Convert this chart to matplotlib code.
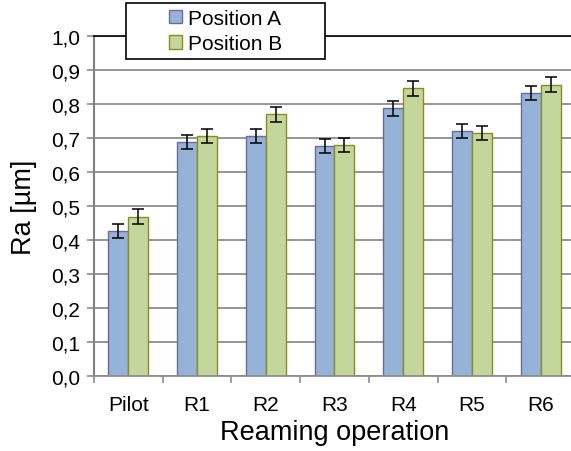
import matplotlib
matplotlib.use("Agg")
import matplotlib.pyplot as plt
import numpy as np
from matplotlib.ticker import FuncFormatter, FixedLocator
from matplotlib.patches import Rectangle

categories = ["Pilot", "R1", "R2", "R3", "R4", "R5", "R6"]
pos_a = [0.426, 0.689, 0.706, 0.676, 0.787, 0.720, 0.833]
pos_b = [0.469, 0.705, 0.770, 0.679, 0.846, 0.715, 0.857]
err_a = [0.021, 0.021, 0.021, 0.021, 0.022, 0.021, 0.021]
err_b = [0.021, 0.021, 0.022, 0.021, 0.022, 0.021, 0.021]

plt.rcParams['font.family'] = ['Liberation Sans', 'DejaVu Sans']

W, H = 571, 452
fig = plt.figure(figsize=(W/100, H/100), dpi=100)
ax = fig.add_axes([94/W, (H-377)/H, (575-94)/W, (377-37)/H])

x = np.arange(len(categories))
bw = 0.29
grid_c = '#8c8c8c'
ax.set_axisbelow(True)
ax.yaxis.grid(True, color=grid_c, lw=1.3)
ekw = dict(ecolor='black', elinewidth=1.1, capsize=4, capthick=1.1)
ax.bar(x - bw/2, pos_a, bw, color='#95b3d7', edgecolor='#6a6aa0', lw=1.0,
       yerr=err_a, error_kw=ekw, label='Position A')
ax.bar(x + bw/2, pos_b, bw, color='#c3d69b', edgecolor='#8c8c1e', lw=1.0,
       yerr=err_b, error_kw=ekw, label='Position B')

ax.set_xlim(-0.5, 6.5)
ax.set_ylim(0, 1.0)
ax.set_yticks(np.arange(0, 1.01, 0.1))
ax.yaxis.set_major_formatter(FuncFormatter(lambda v, p: f"{v:.1f}".replace('.', ',')))
ax.set_xticks(x)
ax.set_xticklabels(categories)
ax.xaxis.set_minor_locator(FixedLocator(np.arange(-0.5, 6.6, 1.0)))
ax.tick_params(axis='x', which='major', length=0, pad=14, labelsize=15)
ax.tick_params(axis='x', which='minor', length=5, color=grid_c, width=1.2)
ax.tick_params(axis='y', length=5, color=grid_c, width=1.2, labelsize=15, pad=5)

ax.spines['right'].set_visible(False)
ax.spines['top'].set_color('black')
ax.spines['top'].set_linewidth(1.2)
ax.spines['left'].set_color('#7f7f7f')
ax.spines['left'].set_linewidth(1.5)
ax.spines['bottom'].set_color(grid_c)
ax.spines['bottom'].set_linewidth(1.3)

ax.set_ylabel('Ra [µm]', fontsize=19.5, labelpad=10)
ax.set_xlabel('Reaming operation', fontsize=19.5, labelpad=3)

# legend box
x0, x1, y0, y1 = 126, 325, 4, 60
box = Rectangle((x0/W, 1-y1/H), (x1-x0)/W, (y1-y0)/H, transform=fig.transFigure,
                facecolor='white', edgecolor='black', lw=1.2, zorder=3)
fig.add_artist(box)
leg = fig.legend(loc='center', bbox_to_anchor=((x0+x1)/2/W, 1-(y0+y1)/2/H), fontsize=15,
                 frameon=False, handlelength=0.6, handleheight=0.6, handletextpad=0.3,
                 borderpad=0, labelspacing=0.32, borderaxespad=0)
leg.set_zorder(5)

fig.savefig('out.png', dpi=100)
